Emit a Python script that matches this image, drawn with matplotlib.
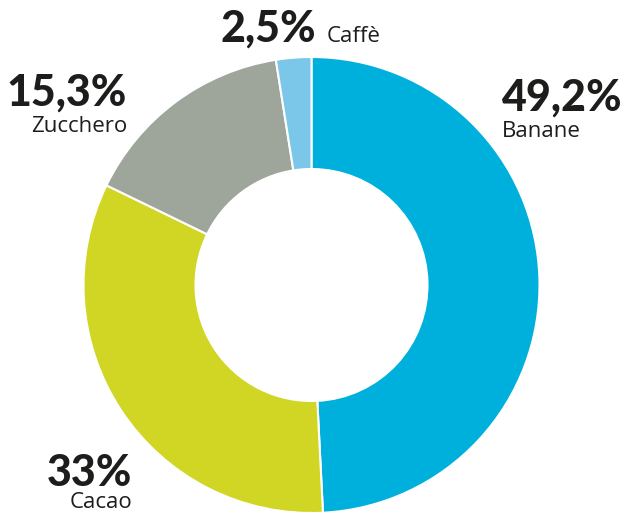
import matplotlib
matplotlib.use("Agg")
import matplotlib.pyplot as plt

categories = ["Banane", "Cacao", "Zucchero", "Caffè"]
values = [49.2, 33.0, 15.3, 2.5]
pct_labels = ["49,2%", "33%", "15,3%", "2,5%"]
colors = ["#00b0dc", "#d0d623", "#9ea59a", "#7ac7ea"]

W, H = 629, 515
fig = plt.figure(figsize=(W / 100, H / 100), dpi=100)
ax = fig.add_axes([0, 0, 1, 1])

cx, cy, R = 311.5, H - 285, 228
ax.pie(values, colors=colors, startangle=90, counterclock=False,
       center=(cx, cy), radius=R, frame=True,
       wedgeprops=dict(width=112, edgecolor="white", linewidth=1.5))
ax.set_xlim(0, W)
ax.set_ylim(0, H)
ax.set_aspect("equal")
ax.axis("off")

bold = dict(family=["Lato", "DejaVu Sans"], fontweight="black", fontsize=31, color="#1d1d1b")
reg = dict(family=["Open Sans", "DejaVu Sans"], fontsize=16, color="#1d1d1b")

# (pct x, pct y baseline, pct ha, name x, name y baseline, name ha)
pos = {
    "Banane": (502, 111, "left", 502, 137, "left"),
    "Cacao": (132, 486, "right", 132, 508, "right"),
    "Zucchero": (127, 106, "right", 127, 132, "right"),
    "Caffè": (316, 42, "right", 327, 42, "left"),
}
for cat, pl in zip(categories, pct_labels):
    px, py, pha, nx, ny, nha = pos[cat]
    ax.text(px, H - py, pl, ha=pha, va="baseline", **bold)
    ax.text(nx, H - ny, cat, ha=nha, va="baseline", **reg)

fig.savefig("out.png", dpi=100, facecolor="white")
